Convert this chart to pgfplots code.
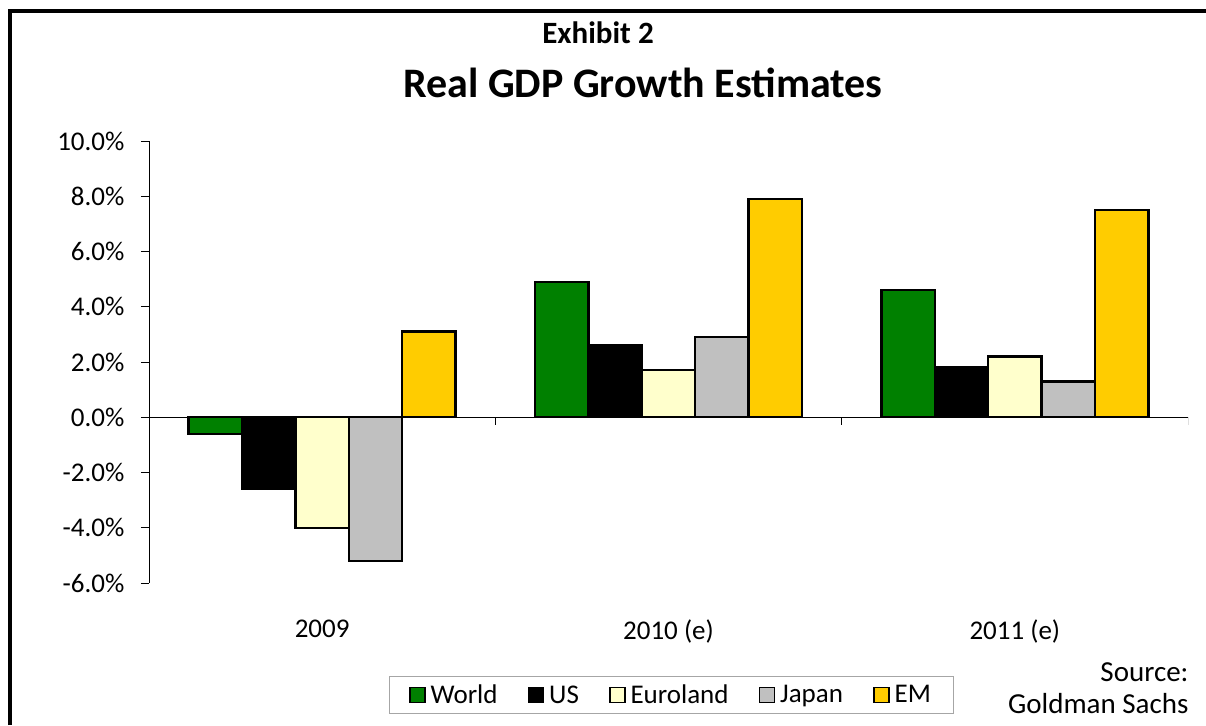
\documentclass[border=0pt]{standalone}
\usepackage{pgfplots}
\pgfplotsset{compat=1.18}
\usepackage{fontspec}
\setmainfont{Carlito}
\definecolor{cWorld}{HTML}{008000}
\definecolor{cEuro}{HTML}{FFFFCC}
\definecolor{cJapan}{HTML}{C0C0C0}
\definecolor{cEM}{HTML}{FFCC00}
\begin{document}
\begin{tikzpicture}
\path[use as bounding box] (-149pt,-142pt) rectangle (1057pt,583pt);
\begin{axis}[
  at={(0,0)}, anchor=south west,
  scale only axis, width=1039pt, height=442pt,
  ymin=-6, ymax=10, xmin=-0.5, xmax=2.5,
  ybar=0pt, bar width=53.4pt,
  axis y line*=left, axis x line*=bottom,
  x axis line style={draw=none},
  xtick={0,1,2}, xticklabels={2009,2010 (e),2011 (e)},
  x tick style={draw=none},
  xticklabel style={font=\fontsize{27}{32}\selectfont, yshift=-25pt},
  ytick={-6,-4,-2,0,2,4,6,8,10},
  yticklabels={-6.0\%,-4.0\%,-2.0\%,0.0\%,2.0\%,4.0\%,6.0\%,8.0\%,10.0\%},
  yticklabel style={font=\fontsize{27}{32}\selectfont, xshift=-13pt},
  y tick style={black, line width=0.8pt},
  y axis line style={line width=0.8pt},
  tick align=outside, major tick length=8pt,
  /pgf/number format/assume math mode=true,
  legend columns=5,
  legend style={at={(axis description cs:0.5024,-0.2534)}, anchor=center,
    draw=gray!70, line width=0.8pt, font=\fontsize{27}{32}\selectfont,
    inner xsep=20pt, inner ysep=6pt,
    /tikz/every odd column/.append style={column sep=3pt},
    /tikz/every even column/.append style={column sep=28pt}},
  legend image code/.code={\draw[#1, line width=1.6pt] (0pt,-7.5pt) rectangle (15pt,7.5pt);},
]
\addplot[fill=cWorld, draw=black, line width=2.4pt] coordinates {(0,-0.6) (1,4.9) (2,4.6)};
\addplot[fill=black, draw=black, line width=2.4pt] coordinates {(0,-2.6) (1,2.6) (2,1.8)};
\addplot[fill=cEuro, draw=black, line width=2.4pt] coordinates {(0,-4.0) (1,1.7) (2,2.2)};
\addplot[fill=cJapan, draw=black, line width=2.4pt] coordinates {(0,-5.2) (1,2.9) (2,1.3)};
\addplot[fill=cEM, draw=black, line width=2.4pt] coordinates {(0,3.1) (1,7.9) (2,7.5)};
\legend{World,US,Euroland,Japan,EM}
\draw[line width=0.8pt] (axis cs:-0.5,0) -- (axis cs:2.5,0);
\draw[line width=0.8pt] (axis cs:0.5,0) -- ([yshift=-8pt]axis cs:0.5,0);
\draw[line width=0.8pt] (axis cs:1.5,0) -- ([yshift=-8pt]axis cs:1.5,0);
\draw[line width=0.8pt] (axis cs:2.5,0) -- ([yshift=-8pt]axis cs:2.5,0);
\end{axis}
\draw[line width=4pt] (-139pt,-142pt) -- (-139pt,572pt) -- (1057pt,572pt);
\node[font=\bfseries\fontsize{31}{36}\selectfont] at (449pt,550pt) {Exhibit 2};
\node[font=\bfseries\fontsize{42}{48}\selectfont] at (494pt,500pt) {Real GDP Growth Estimates};
\node[anchor=east, align=right, font=\fontsize{29}{32}\selectfont] at (1043pt,-105pt) {Source:\\Goldman Sachs};
\end{tikzpicture}
\end{document}
